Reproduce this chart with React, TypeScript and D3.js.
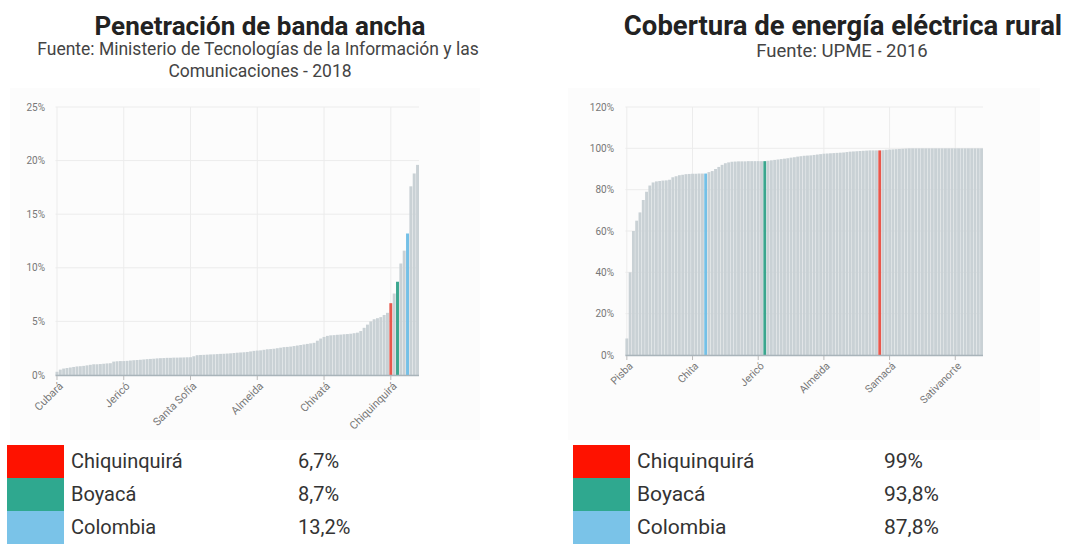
import React from "react";
import * as d3 from "d3";

// ---------- Left chart: Penetración de banda ancha (%) ----------
const leftNames = [
  "Cubará","Pisba","Paya","Labranzagrande","Chiscas","Socotá","Chita","Tununguá","Quípama","Pajarito",
  "Briceño","Coper","Maripí","San Pablo de Borbur","Otanche","Pauna","Tipacoque","Covarachía","Guacamayas","Panqueba",
  "Jericó","Betéitiva","Tutazá","Sativasur","Sativanorte","Susacón","La Uvita","Boavita","San Mateo","El Espino",
  "Güicán","El Cocuy","Chivor","Santa María","Campohermoso","San Luis de Gaceno","Macanal","Berbeo","Zetaquira","Rondón",
  "Santa Sofía","Gachantivá","Tinjacá","Sutamarchán","Ráquira","San Miguel de Sema","Buenavista","Caldas","La Victoria","Muzo",
  "San José de Pare","Chitaraque","Togüí","Moniquirá","Arcabuco","Chíquiza","Sora","Cucaita","Motavita","Oicatá",
  "Almeida","Somondoco","Guayatá","Sutatenza","Tenza","La Capilla","Pachavita","Chinavita","Úmbita","Viracachá",
  "Ciénega","San Eduardo","Páez","Miraflores","Tibaná","Jenesano","Nuevo Colón","Turmequé","Ventaquemada","Soracá",
  "Chivatá","Siachoque","Toca","Pesca","Cuítiva","Tota","Iza","Firavitoba","Mongua","Gámeza",
  "Tópaga","Tasco","Socha","Paz de Río","Cerinza","Belén","Floresta","Busbanzá","Corrales","Saboyá",
  "Chiquinquirá","Garagoa","Boyacá","Paipa","Santa Rosa de Viterbo","Colombia","Duitama","Sogamoso","Tunja",
];
const leftValues = [
  0.3,0.5,0.6,0.65,0.7,0.75,0.8,0.82,0.85,0.9,
  0.95,1.0,1.0,1.02,1.05,1.08,1.1,1.25,1.28,1.3,
  1.3,1.32,1.35,1.38,1.4,1.42,1.45,1.48,1.5,1.52,
  1.55,1.57,1.58,1.6,1.6,1.62,1.62,1.63,1.64,1.65,
  1.66,1.75,1.85,1.87,1.88,1.9,1.92,1.93,1.95,1.97,
  1.98,2.0,2.02,2.05,2.08,2.1,2.12,2.15,2.2,2.25,
  2.28,2.3,2.35,2.4,2.42,2.45,2.5,2.55,2.6,2.62,
  2.65,2.7,2.75,2.8,2.85,2.9,2.95,3.0,3.2,3.4,
  3.55,3.65,3.7,3.72,3.75,3.77,3.8,3.82,3.85,3.9,
  3.95,4.1,4.4,4.7,5.0,5.2,5.3,5.4,5.6,5.8,
  6.7,7.6,8.7,10.4,11.6,13.2,17.6,18.8,19.6,
];
const leftYTicks = [0, 5, 10, 15, 20, 25];
const leftXTicks = ["Cubará","Jericó","Santa Sofía","Almeida","Chivatá","Chiquinquirá"];

// ---------- Right chart: Cobertura de energía eléctrica rural (%) ----------
const rightNames = [
  "Pisba","Cubará","Paya","Labranzagrande","Chiscas","Socotá","Quípama","Pajarito","Tununguá","Briceño",
  "Otanche","San Pablo de Borbur","Coper","Maripí","Pauna","Güicán","El Cocuy","Campohermoso","San Luis de Gaceno","Santa María",
  "Chita","Chivor","Macanal","Berbeo","Colombia","Zetaquira","Rondón","Muzo","La Victoria","Buenavista",
  "Caldas","San José de Pare","Chitaraque","Togüí","Moniquirá","Guacamayas","Panqueba","El Espino","Betéitiva","Tutazá",
  "Jericó","Sativasur","Boyacá","Susacón","La Uvita","Boavita","San Mateo","Covarachía","Tipacoque","Santa Sofía",
  "Gachantivá","Tinjacá","Sutamarchán","Ráquira","San Miguel de Sema","Arcabuco","Chíquiza","Sora","Cucaita","Motavita",
  "Almeida","Somondoco","Guayatá","Sutatenza","Tenza","La Capilla","Pachavita","Chinavita","Úmbita","Viracachá",
  "Ciénega","San Eduardo","Páez","Miraflores","Tibaná","Jenesano","Nuevo Colón","Chiquinquirá","Turmequé","Ventaquemada",
  "Samacá","Soracá","Chivatá","Siachoque","Toca","Pesca","Cuítiva","Tota","Iza","Firavitoba",
  "Mongua","Gámeza","Tópaga","Tasco","Socha","Paz de Río","Cerinza","Belén","Floresta","Busbanzá",
  "Sativanorte","Corrales","Saboyá","Garagoa","Paipa","Santa Rosa de Viterbo","Duitama","Sogamoso","Tunja",
];
const rightValues = [
  8,40,60,65,69,75,79,82,83.5,84,
  84.2,84.4,84.5,84.8,86,86.5,87,87.2,87.5,87.6,
  87.7,87.7,87.8,87.8,87.8,88.5,89,90,91,92,
  92.8,93.2,93.5,93.6,93.7,93.7,93.7,93.8,93.8,93.8,
  93.8,93.8,93.8,94,94.2,94.4,94.6,94.8,95,95.2,
  95.5,95.7,96,96.2,96.4,96.5,96.6,96.8,97,97.2,
  97.4,97.5,97.6,97.7,97.8,97.9,98,98.2,98.4,98.5,
  98.6,98.7,98.8,98.9,99,99,99,99,99.1,99.3,
  99.4,99.5,99.6,99.7,99.8,99.9,100,100,100,100,
  100,100,100,100,100,100,100,100,100,100,
  100,100,100,100,100,100,100,100,100,
];
const rightYTicks = [0, 20, 40, 60, 80, 100, 120];
const rightXTicks = ["Pisba","Chita","Jericó","Almeida","Samacá","Sativanorte"];

// ---------- Legends ----------
const legendNames = ["Chiquinquirá", "Boyacá", "Colombia"];
const leftLegendValues = ["6,7%", "8,7%", "13,2%"];
const rightLegendValues = ["99%", "93,8%", "87,8%"];

const barHighlight: Record<string, string> = {
  "Chiquinquirá": "#e8574c",
  "Boyacá": "#3aa68e",
  "Colombia": "#74c0e6",
};
const legendColors = ["#fe1200", "#2fa88f", "#7ac3e8"];
const BAR_GRAY = "#c9d1d5";
const GRID = "#ececec";
const FONT = "Roboto, 'Noto Sans', sans-serif";

type ChartProps = {
  names: string[];
  values: number[];
  yTicks: number[];
  xTicks: string[];
  x0: number; x1: number; yBottom: number; yTop: number;
  labelX: number;
  xFont: number;
};

function BarChart({ names, values, yTicks, xTicks, x0, x1, yBottom, yTop, labelX, xFont }: ChartProps) {
  const x = d3.scaleBand<string>().domain(names).range([x0, x1]).paddingInner(0.12).paddingOuter(0);
  const y = d3.scaleLinear().domain([0, yTicks[yTicks.length - 1]]).range([yBottom, yTop]);
  const cx = (n: string) => (x(n) ?? 0) + x.bandwidth() / 2;
  return (
    <g>
      {yTicks.map((t) => (
        <g key={"y" + t}>
          <line x1={x0} x2={x1} y1={y(t)} y2={y(t)} stroke={GRID} strokeWidth={1} />
          <text x={labelX} y={y(t)} dy="0.35em" textAnchor="end" fontSize={10} fill="#777" fontFamily={FONT}>
            {t + "%"}
          </text>
        </g>
      ))}
      {xTicks.map((n) => (
        <line key={"gx" + n} x1={cx(n)} x2={cx(n)} y1={yTop} y2={yBottom} stroke={GRID} strokeWidth={1} />
      ))}
      {names.map((n, i) => (
        <rect
          key={n + i}
          x={x(n)}
          y={y(values[i])}
          width={x.bandwidth()}
          height={yBottom - y(values[i])}
          fill={barHighlight[n] ?? BAR_GRAY}
        />
      ))}
      <line x1={x0} x2={x1} y1={yBottom + 0.5} y2={yBottom + 0.5} stroke="#a9b4ba" strokeWidth={1.5} />
      {xTicks.map((n) => (
        <g key={"tx" + n}>
          <line x1={cx(n)} x2={cx(n)} y1={yBottom + 1} y2={yBottom + 5} stroke="#bbb" strokeWidth={1} />
          <text
            transform={`translate(${cx(n) + 4},${yBottom + 9}) rotate(-45)`}
            textAnchor="end"
            dy="0.35em"
            fontSize={xFont}
            fill="#777"
            fontFamily={FONT}
          >
            {n}
          </text>
        </g>
      ))}
    </g>
  );
}

function Legend({ x, valueX, values, fontSize }: { x: number; valueX: number; values: string[]; fontSize: number }) {
  const rowY = d3.scaleBand<string>().domain(legendNames).range([445, 544]);
  return (
    <g>
      {legendNames.map((n, i) => (
        <g key={n}>
          <rect x={x} y={rowY(n)} width={57} height={rowY.bandwidth()} fill={legendColors[i]} />
          <text x={x + 64} y={(rowY(n) ?? 0) + 23} fontSize={fontSize} fill="#333" fontFamily={FONT}>{n}</text>
          <text x={valueX} y={(rowY(n) ?? 0) + 23} fontSize={fontSize} fill="#333" fontFamily={FONT}>{values[i]}</text>
        </g>
      ))}
    </g>
  );
}

export default function App() {
  return (
    <svg
      width={1065}
      height={544}
      viewBox="0 0 1065 544"
      style={{ position: "absolute", left: 0, top: 0, background: "#ffffff" }}
    >
      <rect x={10} y={88} width={470} height={352} fill="#fcfcfc" />
      <rect x={568} y={88} width={472} height={352} fill="#fcfcfc" />

      <text x={260} y={35} textAnchor="middle" fontSize={26} fontWeight="bold" fill="#222" fontFamily={FONT}>
        Penetración de banda ancha
      </text>
      <text x={258} y={55} textAnchor="middle" fontSize={17.5} fill="#444" fontFamily={FONT}>
        Fuente: Ministerio de Tecnologías de la Información y las
      </text>
      <text x={260} y={77} textAnchor="middle" fontSize={17.5} fill="#444" fontFamily={FONT}>
        Comunicaciones - 2018
      </text>

      <text x={843} y={35} textAnchor="middle" fontSize={27.5} fontWeight="bold" fill="#222" fontFamily={FONT}>
        Cobertura de energía eléctrica rural
      </text>
      <text x={842} y={57} textAnchor="middle" fontSize={18.5} fill="#444" fontFamily={FONT}>
        Fuente: UPME - 2016
      </text>

      <BarChart
        names={leftNames}
        values={leftValues}
        yTicks={leftYTicks}
        xTicks={leftXTicks}
        x0={55.5}
        x1={419}
        yBottom={375}
        yTop={107}
        labelX={45}
        xFont={11}
      />
      <BarChart
        names={rightNames}
        values={rightValues}
        yTicks={rightYTicks}
        xTicks={rightXTicks}
        x0={625.4}
        x1={983}
        yBottom={355}
        yTop={107}
        labelX={614}
        xFont={10.5}
      />

      <Legend x={7} valueX={298} values={leftLegendValues} fontSize={20} />
      <Legend x={573} valueX={884} values={rightLegendValues} fontSize={21} />
    </svg>
  );
}
